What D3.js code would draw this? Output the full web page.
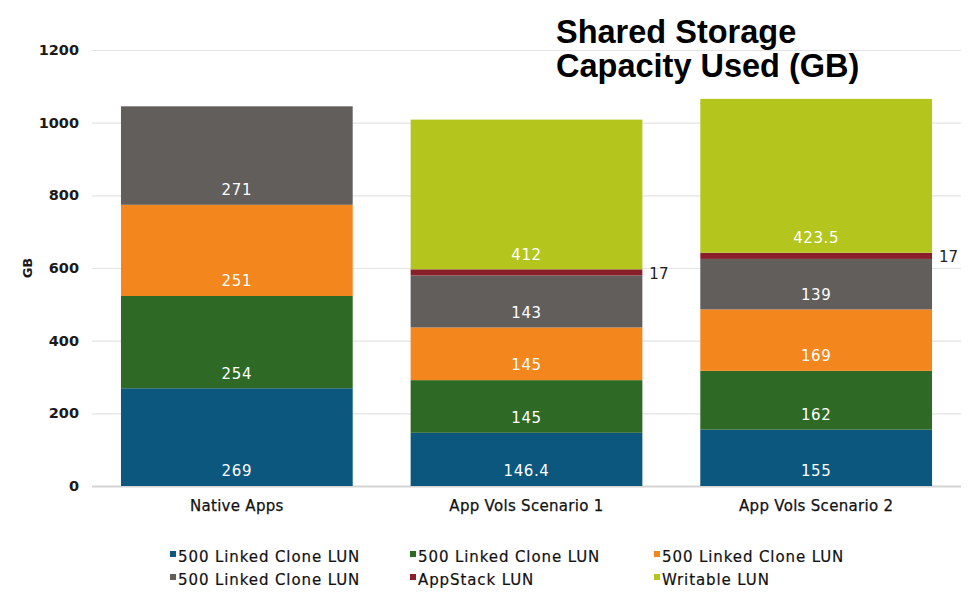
<!DOCTYPE html>
<html>
<head>
<meta charset="utf-8">
<script src="https://cdn.jsdelivr.net/npm/d3@7"></script>
<style>
  body { margin: 0; background: #fff; }
  svg { display: block; }
  .tick-label { font-family: "DejaVu Sans", sans-serif; font-size: 14.5px; font-weight: 600; fill: #1a1a1a; }
  .cat-label { font-family: "DejaVu Sans", sans-serif; font-size: 15px; letter-spacing: 0.3px; fill: #111; stroke: #111; stroke-width: 0.25px; }
  .seg-label { font-family: "DejaVu Sans", sans-serif; font-size: 15px; letter-spacing: 0.6px; fill: #fff; }
  .out-label { font-family: "DejaVu Sans", sans-serif; font-size: 15px; fill: #222; }
  .legend-text { font-family: "DejaVu Sans", sans-serif; font-size: 15px; letter-spacing: 0.9px; fill: #111; stroke: #111; stroke-width: 0.2px; }
  .title { font-family: "Liberation Sans", Arial, sans-serif; font-size: 32.5px; font-weight: bold; fill: #000; }
</style>
</head>
<body>
<div id="chart"></div>
<script>
const categories = ["Native Apps", "App Vols Scenario 1", "App Vols Scenario 2"];
const seriesNames = [
  "500 Linked Clone LUN",
  "500 Linked Clone LUN",
  "500 Linked Clone LUN",
  "500 Linked Clone LUN",
  "AppStack LUN",
  "Writable LUN",
];
const seriesColors = ["#0b577e", "#2e6a25", "#f3861d", "#625e5c", "#8a1f2c", "#b4c61e"];
// one array per series, values per category
const s1 = [269, 146.4, 155];
const s2 = [254, 145, 162];
const s3 = [251, 145, 169];
const s4 = [271, 143, 139];
const s5 = [0, 17, 17];
const s6 = [0, 412, 423.5];
const labelText = [
  ["269", "146.4", "155"],
  ["254", "145", "162"],
  ["251", "145", "169"],
  ["271", "143", "139"],
  ["", "17", "17"],
  ["", "412", "423.5"],
];
const yTicks = [0, 200, 400, 600, 800, 1000, 1200];

const width = 974;
const height = 609;
const marginLeft = 92;
const marginRight = 13;
const marginTop = 50;
const baseline = 486;

const series = [s1, s2, s3, s4, s5, s6];

const svg = d3
  .select("#chart")
  .append("svg")
  .attr("width", width)
  .attr("height", height);

const x = d3
  .scaleBand()
  .domain(categories)
  .range([marginLeft, width - marginRight])
  .paddingInner(0.2)
  .paddingOuter(0.1);

const y = d3.scaleLinear().domain([0, 1200]).range([baseline, marginTop]);

// gridlines + tick labels
const grid = svg.append("g");
grid
  .selectAll("line")
  .data(yTicks)
  .join("line")
  .attr("x1", marginLeft)
  .attr("x2", width - marginRight)
  .attr("y1", (d) => y(d) + 0.5)
  .attr("y2", (d) => y(d) + 0.5)
  .attr("stroke", (d) => (d === 0 ? "#d4d4d4" : "#e3e3e3"))
  .attr("stroke-width", (d) => (d === 0 ? 2 : 1.2));
grid
  .selectAll("text")
  .data(yTicks)
  .join("text")
  .attr("class", "tick-label")
  .attr("x", 79)
  .attr("y", (d) => y(d))
  .attr("dy", "0.35em")
  .attr("text-anchor", "end")
  .text((d) => d);

svg
  .append("text")
  .attr("class", "tick-label")
  .style("font-size", "13px")
  .attr("transform", `translate(32,${y(600)}) rotate(-90)`)
  .attr("text-anchor", "middle")
  .text("GB");

// stacked data
const table = categories.map((c, i) => {
  const row = { cat: c };
  series.forEach((s, k) => (row["s" + k] = s[i]));
  return row;
});
const keys = series.map((_, k) => "s" + k);
const stacked = d3.stack().keys(keys)(table);

const bars = svg.append("g");
stacked.forEach((layer, k) => {
  bars
    .append("g")
    .attr("fill", seriesColors[k])
    .selectAll("rect")
    .data(layer.filter((d) => d[1] - d[0] > 0))
    .join("rect")
    .attr("x", (d) => x(d.data.cat))
    .attr("width", x.bandwidth())
    .attr("y", (d) => y(d[1]))
    .attr("height", (d) => y(d[0]) - y(d[1]));
});

// segment labels
stacked.forEach((layer, k) => {
  layer.forEach((d, i) => {
    const t = labelText[k][i];
    if (!t) return;
    if (k === 4) {
      svg
        .append("text")
        .attr("class", "out-label")
        .attr("x", x(d.data.cat) + x.bandwidth() + 7)
        .attr("y", y((d[0] + d[1]) / 2) + 1)
        .attr("dy", "0.35em")
        .text(t);
    } else {
      svg
        .append("text")
        .attr("class", "seg-label")
        .attr("x", x(d.data.cat) + x.bandwidth() / 2)
        .attr("y", y(d[0]) - 15)
        .attr("dy", "0.35em")
        .attr("text-anchor", "middle")
        .text(t);
    }
  });
});

// category labels
svg
  .append("g")
  .selectAll("text")
  .data(categories)
  .join("text")
  .attr("class", "cat-label")
  .attr("x", (d) => x(d) + x.bandwidth() / 2)
  .attr("y", 511)
  .attr("text-anchor", "middle")
  .text((d) => d);

// legend
const legendCols = [170, 410, 654];
const legendRows = [557, 580];
const legend = svg
  .append("g")
  .selectAll("g")
  .data(seriesNames)
  .join("g")
  .attr(
    "transform",
    (d, i) => `translate(${legendCols[i % 3]},${legendRows[Math.floor(i / 3)]})`
  );
legend
  .append("rect")
  .attr("x", 0)
  .attr("y", -6)
  .attr("width", 6)
  .attr("height", 6)
  .attr("fill", (d, i) => seriesColors[i]);
legend
  .append("text")
  .attr("class", "legend-text")
  .attr("x", 8)
  .attr("y", 0)
  .attr("dy", "0.35em")
  .text((d) => d);

// title
const title = svg.append("text").attr("class", "title");
title.append("tspan").attr("x", 556).attr("y", 43).text("Shared Storage");
title.append("tspan").attr("x", 556).attr("y", 77).text("Capacity Used (GB)");
</script>
</body>
</html>
